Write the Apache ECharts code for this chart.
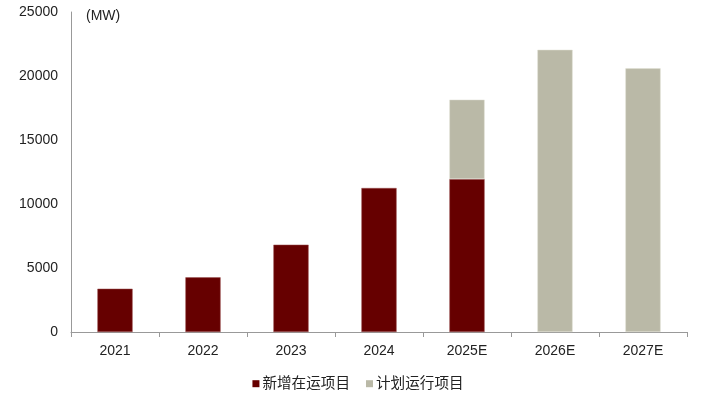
<!DOCTYPE html>
<html><head><meta charset="utf-8">
<script src="https://cdn.jsdelivr.net/npm/echarts@6/dist/echarts.min.js"></script>
<style>html,body{margin:0;padding:0;background:#fff}#c{width:716px;height:412px}</style>
</head><body><div id="c"></div>
<script>
const categories = ['2021','2022','2023','2024','2025E','2026E','2027E'];
const operating = [3380, 4270, 6820, 11250, 11950, null, null];
const planned = [null, null, null, null, 6200, 22050, 20600];
const yTicks = [0, 5000, 10000, 15000, 20000, 25000];
const seriesNames = ['新增在运项目', '计划运行项目'];

const font = '"Liberation Sans", Arial, "Noto Sans CJK SC", sans-serif';
const chart = echarts.init(document.getElementById('c'));
chart.setOption({
  animation: false,
  grid: { left: 71, right: 29, top: 12, bottom: 80, containLabel: false },
  legend: {
    bottom: 16, left: 'center',
    itemWidth: 7, itemHeight: 7, itemGap: 16,
    icon: 'rect',
    itemStyle: { borderWidth: 0 },
    textStyle: { fontFamily: font, fontSize: 14.6, color: '#222', padding: [0,0,0,-2] },
    data: seriesNames
  },
  graphic: [{ type: 'text', left: 86, top: 9, style: { text: '(MW)', font: '14px ' + font, fill: '#222' } }],
  xAxis: {
    type: 'category', data: categories,
    axisLine: { lineStyle: { color: '#999', width: 1 } },
    axisTick: { show: true, length: 5, lineStyle: { color: '#999' } },
    axisLabel: { fontFamily: font, fontSize: 14, color: '#222', margin: 12 }
  },
  yAxis: {
    type: 'value', min: yTicks[0], max: yTicks[yTicks.length-1], interval: 5000,
    axisLine: { show: true, lineStyle: { color: '#999' } },
    axisTick: { show: false },
    splitLine: { show: false },
    axisLabel: { fontFamily: font, fontSize: 14, color: '#222', margin: 13, formatter: v => String(v) }
  },
  series: [
    { name: seriesNames[0], type: 'bar', stack: 'a', data: operating, barWidth: '40%',
      itemStyle: { color: '#660000', borderColor: '#9a5050', borderWidth: 0.5 } },
    { name: seriesNames[1], type: 'bar', stack: 'a', data: planned, barWidth: '40%',
      itemStyle: { color: '#BAB9A7', borderColor: '#e0e0d4', borderWidth: 0.5 } }
  ]
});
</script></body></html>
